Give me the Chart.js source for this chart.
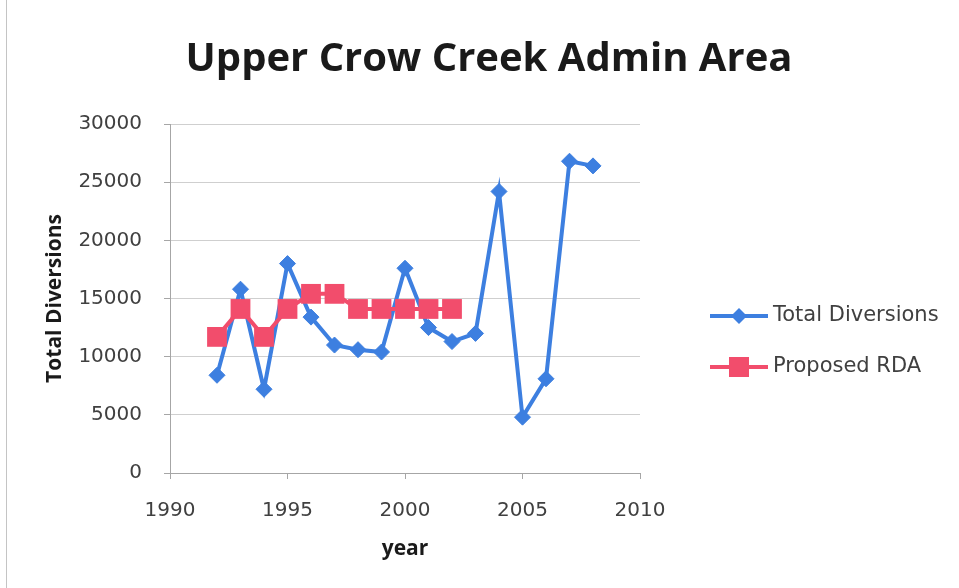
<!DOCTYPE html>
<html>
<head>
<meta charset="utf-8">
<title>Upper Crow Creek Admin Area</title>
<script src="https://cdn.jsdelivr.net/npm/chart.js@4"></script>
<style>
  html, body { margin: 0; padding: 0; background: #ffffff; }
  #wrap { width: 959px; height: 588px; position: relative; }
</style>
</head>
<body>
<div id="wrap"><canvas id="chart" width="959" height="588"></canvas></div>
<script>
// Annual totals, Upper Crow Creek administrative area
const years = [1992, 1993, 1994, 1995, 1996, 1997, 1998, 1999, 2000,
               2001, 2002, 2003, 2004, 2005, 2006, 2007, 2008];
const totalDiversions = [8400, 15800, 7200, 18000, 13400, 11000, 10600, 10400, 17600,
                         12500, 11300, 12000, 24200, 4800, 8100, 26800, 26400];

// Proposed RDA covers 1992-2002 only
const rdaYears = [1992, 1993, 1994, 1995, 1996, 1997, 1998, 1999, 2000, 2001, 2002];
const proposedRDA = [11700, 14100, 11700, 14100, 15400, 15400, 14100, 14100, 14100, 14100, 14100];

const xTicks = [1990, 1995, 2000, 2005, 2010];
const yTicks = [0, 5000, 10000, 15000, 20000, 25000, 30000];

const BLUE = '#3d7fe0';
const RED = '#f24d6c';
const TEXT = '#404040';
const AXIS = '#a6a6a6';
const GRID = '#cfcfcf';

const toPoints = (xs, ys) => xs.map((x, i) => ({ x: x, y: ys[i] }));

// Title, frame line and a line+marker legend on the right
const decor = {
  id: 'decor',
  beforeDraw(chart) {
    const ctx = chart.ctx;
    ctx.save();
    ctx.fillStyle = '#ffffff';
    ctx.fillRect(0, 0, chart.width, chart.height);
    ctx.strokeStyle = '#c4c4c4';
    ctx.lineWidth = 1;
    ctx.beginPath();
    ctx.moveTo(6.5, 0);
    ctx.lineTo(6.5, chart.height);
    ctx.stroke();
    ctx.restore();
  },
  afterDraw(chart) {
    const ctx = chart.ctx;
    ctx.save();
    ctx.fillStyle = '#1a1a1a';
    ctx.font = 'bold 40px "Open Sans"';
    ctx.textAlign = 'center';
    ctx.textBaseline = 'middle';
    ctx.fillText('Upper Crow Creek Admin Area', 489, 60);

    const lx0 = 710, lx1 = 768, tx = 773;
    const rows = [316, 367];
    chart.data.datasets.forEach((ds, i) => {
      const y = rows[i];
      ctx.strokeStyle = ds.borderColor;
      ctx.lineWidth = 4;
      ctx.beginPath();
      ctx.moveTo(lx0, y);
      ctx.lineTo(lx1, y);
      ctx.stroke();
      ctx.fillStyle = ds.pointBackgroundColor;
      ctx.beginPath();
      const cx = (lx0 + lx1) / 2;
      if (ds.pointStyle === 'rectRot') {
        const r = 8;
        ctx.moveTo(cx - r, y); ctx.lineTo(cx, y - r); ctx.lineTo(cx + r, y); ctx.lineTo(cx, y + r);
        ctx.closePath();
      } else {
        const s = 10;
        ctx.rect(cx - s, y - s, 2 * s, 2 * s);
      }
      ctx.fill();
      ctx.fillStyle = TEXT;
      ctx.font = '21px "DejaVu Sans"';
      ctx.textAlign = 'left';
      ctx.textBaseline = 'middle';
      ctx.fillText(ds.label, tx, y);
    });
    ctx.restore();
  }
};

new Chart(document.getElementById('chart'), {
  type: 'line',
  data: {
    datasets: [
      {
        label: 'Total Diversions',
        data: toPoints(years, totalDiversions),
        borderColor: BLUE,
        backgroundColor: BLUE,
        pointBackgroundColor: BLUE,
        pointBorderColor: BLUE,
        borderWidth: 4,
        pointStyle: 'rectRot',
        pointRadius: 8,
        pointBorderWidth: 1,
        tension: 0,
        order: 2
      },
      {
        label: 'Proposed RDA',
        data: toPoints(rdaYears, proposedRDA),
        borderColor: RED,
        backgroundColor: RED,
        pointBackgroundColor: RED,
        pointBorderColor: RED,
        borderWidth: 4,
        pointStyle: 'rect',
        pointRadius: 14,
        pointBorderWidth: 0,
        tension: 0,
        order: 1
      }
    ]
  },
  options: {
    responsive: false,
    animation: false,
    devicePixelRatio: 1,
    layout: { padding: { top: 124, right: 319, bottom: 0, left: 0 } },
    plugins: {
      legend: { display: false },
      title: { display: false },
      tooltip: { enabled: false }
    },
    scales: {
      x: {
        type: 'linear',
        min: 1990,
        max: 2010,
        afterFit(scale) { scale.height = 115; },
        afterBuildTicks(scale) { scale.ticks = xTicks.map(v => ({ value: v })); },
        border: { display: true, color: AXIS, width: 1 },
        grid: { display: true, drawOnChartArea: false, drawTicks: true, tickLength: 6, color: AXIS },
        ticks: {
          color: TEXT,
          font: { family: 'DejaVu Sans', size: 20 },
          padding: 20,
          maxRotation: 0,
          callback: v => String(v)
        },
        title: {
          display: true,
          text: 'year',
          color: '#1a1a1a',
          font: { family: 'Open Sans', size: 21, weight: 'bold' },
          padding: { top: 0, bottom: 26 }
        }
      },
      y: {
        min: 0,
        max: 30000,
        afterFit(scale) { scale.width = 170; },
        afterBuildTicks(scale) { scale.ticks = yTicks.map(v => ({ value: v })); },
        border: { display: true, color: AXIS, width: 1 },
        grid: { color: GRID, tickLength: 6, tickColor: AXIS },
        ticks: {
          color: TEXT,
          font: { family: 'DejaVu Sans', size: 20 },
          padding: 22,
          callback: v => String(v)
        },
        title: {
          display: true,
          text: 'Total Diversions',
          color: '#1a1a1a',
          font: { family: 'Open Sans', size: 21, weight: 'bold' },
          padding: { top: 42, bottom: 0 }
        }
      }
    }
  },
  plugins: [decor]
});
</script>
</body>
</html>
